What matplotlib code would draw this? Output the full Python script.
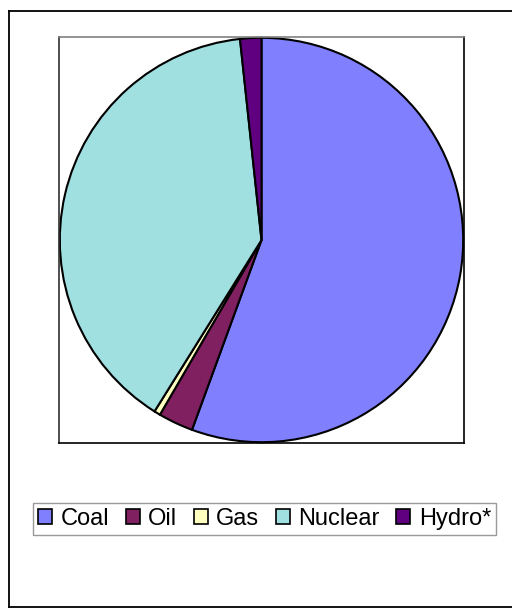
import matplotlib.pyplot as plt
from matplotlib.lines import Line2D

labels = ["Coal", "Oil", "Gas", "Nuclear", "Hydro*"]
shares = [55.6, 2.8, 0.5, 39.4, 1.7]
colors = ["#8080FF", "#802060", "#FFFFC0", "#A0E0E0", "#600080"]

plt.rcParams['font.family'] = ['Liberation Sans', 'DejaVu Sans']

W, H = 512, 608
fig = plt.figure(figsize=(W / 100, H / 100), dpi=100)

# outer chart border (open on the right)
for xs, ys in [([8.5, 8.5], [10.5, 606.5]), ([8.5, 512], [10.5, 10.5]), ([8.5, 512], [606.5, 606.5])]:
    fig.add_artist(Line2D([x / W for x in xs], [1 - y / H for y in ys], color="black", lw=1.3))

# plot area
ax = fig.add_axes([59 / W, 1 - 443 / H, 405 / W, 406 / H])
wedges, _ = ax.pie(shares, colors=colors, startangle=90, counterclock=False,
                   wedgeprops=dict(edgecolor="black", linewidth=1.5))
ax.set_frame_on(True)
ax.set_xticks([])
ax.set_yticks([])
ax.set_xlim(-1.004, 1.004)
ax.set_ylim(-1.004, 1.004)
ax.set_aspect("auto")
ax.spines["top"].set_color("#808080")
ax.spines["left"].set_color("#303030")
ax.spines["right"].set_color("black")
ax.spines["bottom"].set_color("black")
for s in ax.spines.values():
    s.set_visible(True)
    s.set_linewidth(1.2)

leg = fig.legend(wedges, labels, ncol=5, loc="center",
                 bbox_to_anchor=(264.5 / W, 1 - 519 / H), fontsize=17,
                 frameon=True, fancybox=False, edgecolor="#808080",
                 handlelength=0.6, handleheight=0.6, handletextpad=0.35,
                 columnspacing=0.7, borderpad=0.2, borderaxespad=0)
leg.get_frame().set_linewidth(1.0)
for h in leg.legend_handles:
    h.set_linewidth(1.2)

fig.savefig("out.png", dpi=100)
